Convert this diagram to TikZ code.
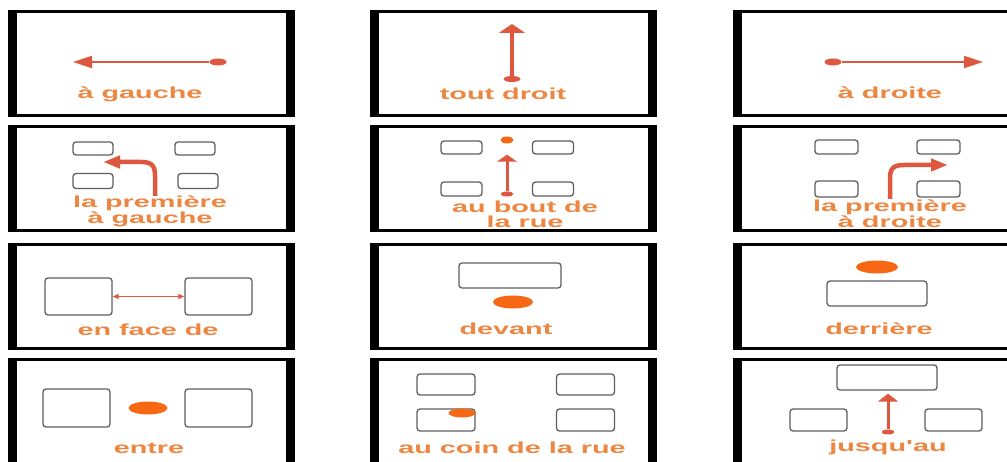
\documentclass[tikz,border=0pt]{standalone}
\usepackage{fontspec}
\newfontfamily\signfont{Liberation Sans}[FakeStretch=1.8]
\usepackage{tikz}
\usetikzlibrary{arrows.meta,shapes.geometric}
\definecolor{signred}{RGB}{221,88,62}
\definecolor{signdot}{RGB}{246,104,20}
\definecolor{signtext}{RGB}{236,134,64}
\definecolor{signgray}{RGB}{95,95,95}
\tikzset{
  pbox/.style={draw=signgray,line width=1.3pt,rounded corners=3pt,fill=white,inner sep=0pt},
  pdot/.style={ellipse,fill=signdot,inner sep=0pt},
  ptail/.style={ellipse,fill=signred,inner sep=0pt,minimum width=17pt,minimum height=7pt},
  plbl/.style={font=\signfont\bfseries\fontsize{16}{15}\selectfont,text=signtext,
    align=center,inner sep=0pt,anchor=base},
  harr/.style={draw=signred,line width=2pt,-{Triangle[length=19pt,width=12pt]}},
  varr/.style={draw=signred,line width=3.5pt,-{Triangle[length=9pt,width=26pt]}},
  carr/.style={draw=signred,line width=4.5pt,-{Triangle[length=17pt,width=12pt]}},
  farr/.style={draw=signred,line width=1pt,
    {Triangle[length=6pt,width=5pt]}-{Triangle[length=6pt,width=5pt]}}
}
% one sign: black frame, thick at the sides
\newcommand{\pframe}{%
  \fill (0,0) rectangle (287,107);
  \fill[white] (9,3) rectangle (278,104);}
\newcommand{\pbox}[5]{\node[pbox,minimum width=#4pt,minimum height=#5pt] (#1) at (#2,#3) {};}
\newcommand{\pdot}[5]{\node[pdot,minimum width=#4pt,minimum height=#5pt] (#1) at (#2,#3) {};}
% label: base of the last line at (#2,#3)
\newcommand{\plabel}[4]{\node[plbl] (#1) at (#2,#3) {#4};}
\begin{document}
\begin{tikzpicture}[x=1pt,y=-1pt]
  \useasboundingbox (0,0) rectangle (1007,462);
  \clip (0,0) rectangle (1007,462);
  \fill[white] (0,0) rectangle (1007,462);
  % row 1
  \begin{scope}[shift={(8,10)}]
    \pframe
    \node[ptail] (gt) at (210,52) {};
    \coordinate (gtip) at (65,52);
    \draw[harr] (gt) -- (gtip);
    \plabel{lg}{132}{89}{à gauche}
  \end{scope}
  \begin{scope}[shift={(370,10)}]
    \pframe
    \node[ptail,minimum height=6pt] (tt) at (142,69) {};
    \coordinate (ttip) at (142,14);
    \draw[varr] (tt) -- (ttip);
    \plabel{lt}{133}{90}{tout droit}
  \end{scope}
  \begin{scope}[shift={(733,10)}]
    \pframe
    \node[ptail] (dt) at (100,52) {};
    \coordinate (dtip) at (250,52);
    \draw[harr] (dt) -- (dtip);
    \plabel{ld}{157}{89}{à droite}
  \end{scope}
  % row 2
  \begin{scope}[shift={(8,125)}]
    \pframe
    \pbox{pga}{85}{23.5}{40}{13} \pbox{pgb}{187}{23.5}{40}{13}
    \pbox{pgc}{85}{56}{40}{15}   \pbox{pgd}{190}{56}{40}{15}
    \coordinate (pgs) at (147,71);
    \coordinate (pge) at (95,37);
    \draw[carr] (pgs) -- (147,50) .. controls (147,40) and (143,37) .. (133,37) -- (pge);
    \plabel{lpg}{142}{99}{la première\\à gauche}
  \end{scope}
  \begin{scope}[shift={(370,125)}]
    \pframe
    \pbox{bra}{91.5}{22.5}{41}{13} \pbox{brb}{183}{22.5}{41}{13}
    \pbox{brc}{91.5}{64}{41}{14}   \pbox{brd}{183}{64}{41}{14}
    \pdot{brdot}{137}{15}{13}{7}
    \node[ptail,minimum width=13pt,minimum height=5pt] (brt) at (137,69) {};
    \draw[varr,line width=3pt,-{Triangle[length=7pt,width=20pt]},shorten >=11pt] (brt) -- (brdot);
    \plabel{lbr}{155}{103}{au bout de\\la rue}
  \end{scope}
  \begin{scope}[shift={(733,125)}]
    \pframe
    \pbox{pda}{103.5}{22}{43}{14} \pbox{pdb}{205.5}{22}{43}{14}
    \pbox{pdc}{103.5}{64}{43}{16} \pbox{pdd}{205.5}{64}{43}{16}
    \coordinate (pds) at (157,74);
    \coordinate (pde) at (215,40);
    \draw[carr] (pds) -- (157,53) .. controls (157,43) and (161,40) .. (171,40) -- (pde);
    \plabel{lpd}{157}{103}{la première\\à droite}
  \end{scope}
  % row 3
  \begin{scope}[shift={(8,243)}]
    \pframe
    \pbox{fl}{70.5}{53.5}{67}{37} \pbox{fr}{210.5}{53.5}{67}{37}
    \draw[farr] (fl) -- (fr);
    \plabel{lf}{140}{93}{en face de}
  \end{scope}
  \begin{scope}[shift={(370,243)}]
    \pframe
    \pbox{dvb}{140}{32.5}{102}{25}
    \pdot{dvd}{143}{59}{40}{13}
    \plabel{ldv}{136}{92}{devant}
  \end{scope}
  \begin{scope}[shift={(733,243)}]
    \pframe
    \pdot{drd}{144}{24}{42}{13}
    \pbox{drb}{144}{50.5}{100}{25}
    \plabel{ldr}{146}{92}{derrière}
  \end{scope}
  % row 4
  \begin{scope}[shift={(8,358)}]
    \pframe
    \pbox{el}{68.5}{50}{67}{38} \pbox{er}{210.5}{50}{67}{38}
    \pdot{ed}{140}{50}{39}{13}
    \plabel{le}{141}{95}{entre}
  \end{scope}
  \begin{scope}[shift={(370,358)}]
    \pframe
    \pbox{ca}{76}{26.5}{58}{21} \pbox{cb}{215.5}{26.5}{58}{21}
    \pbox{cc}{76}{62}{58}{22}   \pbox{cd}{215.5}{62}{58}{22}
    \pdot{cdot}{92}{55}{27}{9}
    \plabel{lc}{142}{95}{au coin de la rue}
  \end{scope}
  \begin{scope}[shift={(733,358)}]
    \pframe
    \pbox{jt}{154}{19.5}{100}{25}
    \pbox{jl}{85.5}{62}{57}{22} \pbox{jr}{220.5}{62}{57}{22}
    \node[ptail,minimum width=13pt,minimum height=5pt] (jd) at (155,74) {};
    \draw[varr,line width=3pt,-{Triangle[length=8pt,width=20pt]},shorten >=3pt] (jd) -- (jd |- jt.south);
    \plabel{lj}{155}{93}{jusqu'au}
  \end{scope}
\end{tikzpicture}
\end{document}
